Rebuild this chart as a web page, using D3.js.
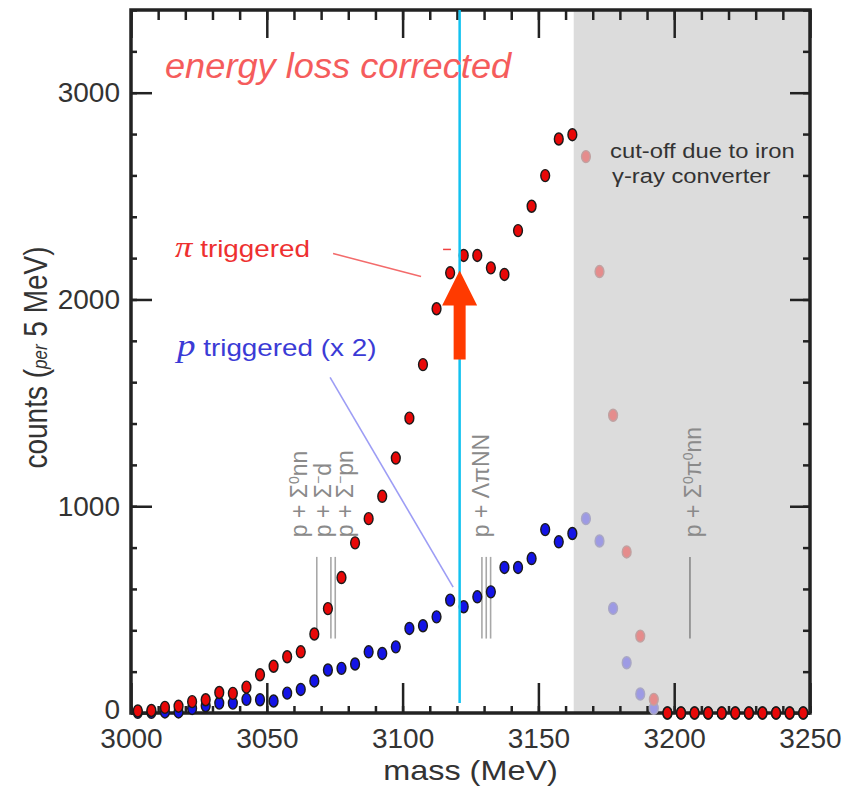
<!DOCTYPE html>
<html>
<head>
<meta charset="utf-8">
<script src="https://cdn.jsdelivr.net/npm/d3@7"></script>
<style>
  body { margin: 0; background: #fff; }
  svg { display: block; }
  text { font-family: "Liberation Sans", Arial, sans-serif; }
</style>
</head>
<body>
<div id="wrapper"></div>
<script>
// bin centres (5 MeV bins)
const masses = [
  3002.5, 3007.5, 3012.5, 3017.5, 3022.5, 3027.5, 3032.5, 3037.5, 3042.5, 3047.5,
  3052.5, 3057.5, 3062.5, 3067.5, 3072.5, 3077.5, 3082.5, 3087.5, 3092.5, 3097.5,
  3102.5, 3107.5, 3112.5, 3117.5, 3122.5, 3127.5, 3132.5, 3137.5, 3142.5, 3147.5,
  3152.5, 3157.5, 3162.5, 3167.5, 3172.5, 3177.5, 3182.5, 3187.5, 3192.5, 3197.5,
  3202.5, 3207.5, 3212.5, 3217.5, 3222.5, 3227.5, 3232.5, 3237.5, 3242.5, 3247.5
]
// pi triggered
const piCounts = [
  10, 12, 27, 33, 55, 64, 99, 95, 125, 185,
  226, 272, 296, 382, 505, 655, 823, 940, 1048, 1233,
  1426, 1685, 1955, 2129, 2213, 2213, 2153, 2121, 2333, 2451,
  2599, 2776, 2797, 2691, 2135, 1440, 779, 372, 66, 0,
  0, 0, 0, 0, 0, 0, 0, 0, 0, 0
]
// p triggered (x 2)
const pCounts = [
  3, 3, 5, 5, 22, 35, 48, 48, 66, 64,
  58, 96, 114, 155, 208, 216, 237, 296, 288, 320,
  409, 422, 465, 546, 514, 562, 586, 704, 704, 747,
  887, 828, 868, 940, 832, 506, 243, 92, 23, 0,
  0, 0, 0, 0, 0, 0, 0, 0, 0, 0
]
const xTicks = [3000, 3050, 3100, 3150, 3200, 3250]
const yTicks = [0, 1000, 2000, 3000]

const cutoffMass = 3163
const markerMass = 3121
const markerRange = [48, 3400]
const arrowCounts = [1710, 1971, 2140]

// thresholds
const sigmaLines = [3068.4, 3073.6, 3075.2]
const lambdaLines = [3129.2, 3130.8, 3132.4]
const sigmaPiLines = [3205.8]
const thresholdRange = [360, 755]
const labelMasses = [3064.8, 3073.5, 3081.7, 3131.8, 3209.7]
const labelParts = [
  [["p + Σ", 0], ["0", 1], ["nn", 0]],
  [["p + Σ", 0], ["−", 1], ["d", 0]],
  [["p + Σ", 0], ["−", 1], ["pn", 0]],
  [["p + ΛπNN", 0]],
  [["p + Σ", 0], ["0", 1], ["π", 0], ["0", 1], ["nn", 0]],
]
const labelBase = 850

// leader lines [mass, count]
const piLeader = [[3074.4, 2222], [3106.8, 2111]]
const piDash = [[3114.9, 2242], [3117.8, 2242]]
const pLeader = [[3073.3, 1623], [3118.6, 609]]

async function drawChart() {

  // 1. dimensions
  let dimensions = {
    width: 853,
    height: 792,
    margin: { top: 10, right: 43, bottom: 79, left: 131 },
  }
  dimensions.boundedWidth = dimensions.width - dimensions.margin.left - dimensions.margin.right
  dimensions.boundedHeight = dimensions.height - dimensions.margin.top - dimensions.margin.bottom

  // 2. canvas
  const wrapper = d3.select('#wrapper')
    .append('svg')
      .attr('width', dimensions.width)
      .attr('height', dimensions.height)

  const bounds = wrapper.append('g')
      .attr('transform', `translate(${dimensions.margin.left},${dimensions.margin.top})`)

  // 3. scales
  const xScale = d3.scaleLinear()
    .domain([3000, 3250])
    .range([0, dimensions.boundedWidth])

  const yScale = d3.scaleLinear()
    .domain([0, 3400])
    .range([dimensions.boundedHeight, 0])

  const addText = (parent, x, y, k, angle = 0) => parent.append('text')
      .attr('transform', `translate(${x},${y}) scale(${k},1) rotate(${angle})`)

  // 4. cut-off shading
  bounds.append('rect')
      .attr('x', xScale(cutoffMass))
      .attr('y', 0)
      .attr('width', dimensions.boundedWidth - xScale(cutoffMass))
      .attr('height', dimensions.boundedHeight)
      .attr('fill', '#dcdcdc')

  // threshold lines
  const thresholds = bounds.append('g')
  thresholds.selectAll('line')
    .data([...sigmaLines, ...lambdaLines, ...sigmaPiLines])
    .join('line')
      .attr('x1', d => xScale(d))
      .attr('x2', d => xScale(d))
      .attr('y1', yScale(thresholdRange[0]))
      .attr('y2', yScale(thresholdRange[1]))
      .attr('stroke', (d, i) => i < 6 ? '#a8a8a8' : '#888')
      .attr('stroke-width', 1.6)

  labelParts.forEach((parts, i) => {
    const t = addText(thresholds, xScale(labelMasses[i]), yScale(labelBase), 1.0, -90)
        .attr('font-size', 23)
        .attr('fill', '#8a8a8a')
    parts.forEach(([s, sup], j) => {
      const prev = j > 0 ? parts[j - 1][1] : 0
      t.append('tspan')
          .attr('dy', sup && !prev ? -8 : (!sup && prev ? 8 : 0))
          .attr('font-size', sup ? 14 : 23)
          .text(s)
    })
  })

  // leader lines
  const line = d3.line().x(d => xScale(d[0])).y(d => yScale(d[1]))
  bounds.append('path')
      .attr('d', line(piLeader))
      .attr('stroke', '#f36b6b')
      .attr('stroke-width', 1.6)
      .attr('fill', 'none')
  bounds.append('path')
      .attr('d', line(piDash))
      .attr('stroke', '#f04040')
      .attr('stroke-width', 1.5)
  bounds.append('path')
      .attr('d', line(pLeader))
      .attr('stroke', '#9d9df5')
      .attr('stroke-width', 1.6)
      .attr('fill', 'none')

  // 5. axes (ticks on all sides, pointing inward)
  const xMinor = d3.range(3000, 3251, 10)
  const yMinor = d3.range(0, 3401, 200)
  const axisColor = '#222'

  const styleAxis = g => {
    g.select('.domain').remove()
    g.selectAll('.tick line').attr('stroke', axisColor).attr('stroke-width', 2.5)
    g.selectAll('.tick text')
        .attr('fill', '#333')
        .attr('font-size', 28)
        .attr('font-family', '"Liberation Sans", Arial, sans-serif')
  }

  bounds.append('g')
      .attr('transform', `translate(0,${dimensions.boundedHeight})`)
      .call(d3.axisBottom(xScale).tickValues(xMinor).tickSize(-7).tickFormat(''))
      .call(styleAxis)
  bounds.append('g')
      .attr('transform', `translate(0,${dimensions.boundedHeight})`)
      .call(d3.axisBottom(xScale).tickValues(xTicks).tickSize(-30).tickPadding(15).tickFormat(d3.format('d')))
      .call(styleAxis)
  bounds.append('g')
      .call(d3.axisTop(xScale).tickValues(xMinor).tickSize(-10).tickFormat(''))
      .call(styleAxis)
  bounds.append('g')
      .call(d3.axisTop(xScale).tickValues(xTicks).tickSize(-28).tickFormat(''))
      .call(styleAxis)

  bounds.append('g')
      .call(d3.axisLeft(yScale).tickValues(yMinor).tickSize(-6).tickFormat(''))
      .call(styleAxis)
  const yAxis = bounds.append('g')
      .call(d3.axisLeft(yScale).tickValues(yTicks).tickSize(-21).tickPadding(11).tickFormat(d3.format('d')))
      .call(styleAxis)
  // lift the "0" a touch so it clears the 3000 below it
  yAxis.selectAll('.tick text').filter(d => d === 0).attr('y', -3)
  bounds.append('g')
      .attr('transform', `translate(${dimensions.boundedWidth},0)`)
      .call(d3.axisRight(yScale).tickValues(yMinor).tickSize(-7).tickFormat(''))
      .call(styleAxis)
  bounds.append('g')
      .attr('transform', `translate(${dimensions.boundedWidth},0)`)
      .call(d3.axisRight(yScale).tickValues(yTicks).tickSize(-20).tickFormat(''))
      .call(styleAxis)

  bounds.append('rect')
      .attr('width', dimensions.boundedWidth)
      .attr('height', dimensions.boundedHeight)
      .attr('fill', 'none')
      .attr('stroke', axisColor)
      .attr('stroke-width', 3.5)

  // 6. data points
  const faded = (m, c) => m > cutoffMass && c > 0
  const drawSeries = (values, fill, fadedFill, fadedStroke) => {
    bounds.append('g')
      .selectAll('ellipse')
      .data(masses.map((m, i) => ({ m, c: values[i] })))
      .join('ellipse')
        .attr('cx', d => xScale(d.m))
        .attr('cy', d => yScale(d.c))
        .attr('rx', 4.4)
        .attr('ry', 6)
        .attr('fill', d => faded(d.m, d.c) ? fadedFill : fill)
        .attr('stroke', d => faded(d.m, d.c) ? fadedStroke : '#1a1a1a')
        .attr('stroke-width', 1.4)
  }
  drawSeries(pCounts, '#1414e6', '#9d9ae4', '#a9a7c4')
  drawSeries(piCounts, '#e80808', '#e58c8c', '#c0a2a2')

  // marker line + arrow
  const mx = xScale(markerMass)
  bounds.append('line')
      .attr('x1', mx)
      .attr('x2', mx)
      .attr('y1', yScale(markerRange[0]))
      .attr('y2', yScale(markerRange[1]))
      .attr('stroke', '#12c2f0')
      .attr('stroke-width', 2.5)

  const [aBottom, aBase, aTip] = arrowCounts.map(yScale)
  bounds.append('path')
      .attr('d', `M${mx - 6},${aBottom} L${mx - 6},${aBase} L${mx - 17.5},${aBase}
                  L${mx},${aTip} L${mx + 17.5},${aBase} L${mx + 6},${aBase} L${mx + 6},${aBottom} Z`)
      .attr('fill', '#ff3a00')

  // 7. labels
  addText(bounds, xScale(3012.5), yScale(3072), 1.035)
      .attr('font-size', 35)
      .attr('font-style', 'italic')
      .attr('fill', '#f55c5c')
      .text('energy loss corrected')

  const piLabel = addText(bounds, xScale(3016.2), yScale(2203), 1.16)
      .attr('font-size', 24)
      .attr('fill', '#ee3030')
  piLabel.append('tspan')
      .attr('font-family', '"Liberation Serif", "Times New Roman", serif')
      .attr('font-style', 'italic')
      .attr('font-size', 30)
      .text('π')
  piLabel.append('tspan').text(' triggered')

  const pLabel = addText(bounds, xScale(3016.9), yScale(1729), 1.16)
      .attr('font-size', 24)
      .attr('fill', '#3b3bd6')
  pLabel.append('tspan')
      .attr('font-family', '"Liberation Serif", "Times New Roman", serif')
      .attr('font-style', 'italic')
      .attr('font-size', 32)
      .text('p')
  pLabel.append('tspan').text(' triggered (x 2)')

  addText(bounds, xScale(3176.4), yScale(2686), 1.16)
      .attr('font-size', 20.5)
      .attr('fill', '#333')
      .text('cut-off due to iron')
  addText(bounds, xScale(3177.1), yScale(2565), 1.16)
      .attr('font-size', 20.5)
      .attr('fill', '#333')
      .text('γ-ray converter')

  // axis titles
  addText(wrapper, dimensions.margin.left + dimensions.boundedWidth / 2, 780, 1.2)
      .attr('font-size', 27)
      .attr('fill', '#333')
      .attr('text-anchor', 'middle')
      .text('mass (MeV)')

  const yTitle = addText(wrapper, 47, dimensions.margin.top + dimensions.boundedHeight / 2 - 4, 1.2, -90)
      .attr('font-size', 28)
      .attr('fill', '#333')
      .attr('text-anchor', 'middle')
  yTitle.append('tspan').text('counts (')
  yTitle.append('tspan').attr('font-size', 17).attr('font-style', 'italic').text('per')
  yTitle.append('tspan').text(' 5 MeV)')
}
drawChart()
</script>
</body>
</html>
